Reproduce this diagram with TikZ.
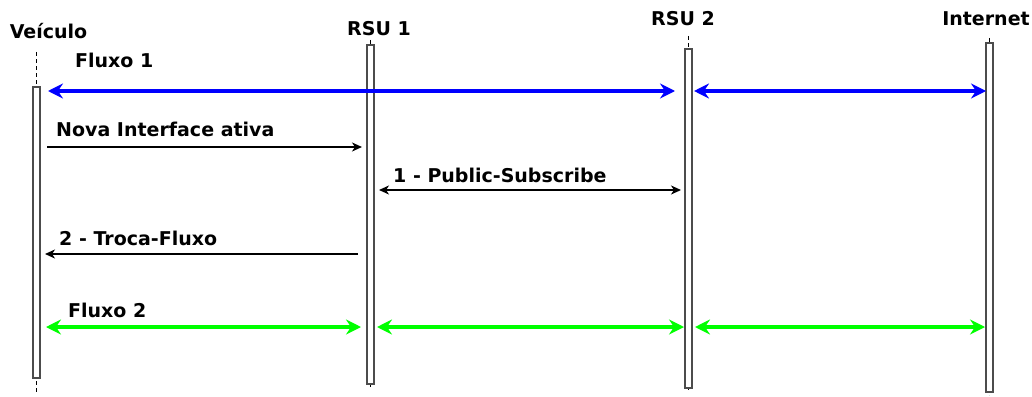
\documentclass[tikz,border=0pt]{standalone}
\usepackage{fontspec}
\setmainfont{DejaVu Sans}
\usetikzlibrary{arrows.meta}
\definecolor{fluxoUm}{RGB}{0,0,255}
\definecolor{fluxoDois}{RGB}{0,255,0}

\begin{document}
\begin{tikzpicture}[x=1pt,y=-1pt]
  \tikzset{actor/.style={font=\fontsize{19}{21}\selectfont\bfseries,anchor=base,inner sep=0pt}}
  \tikzset{msg/.style={font=\fontsize{19}{21}\selectfont\bfseries,anchor=base west,inner sep=0pt}}
  \tikzset{bar/.style={draw=gray!60!black,fill=white,line width=1.2pt,minimum width=7pt,inner sep=0pt}}
  \tikzset{life/.style={dashed,line width=0.8pt,dash pattern=on 4pt off 3pt}}
  \tikzset{call/.style={line width=2pt,-{Stealth[length=10pt,width=9pt,inset=3pt]}}}
  \tikzset{both/.style={line width=2pt,{Stealth[length=10pt,width=9pt,inset=3pt]}-{Stealth[length=10pt,width=9pt,inset=3pt]}}}
  \tikzset{flow/.style={line width=4.5pt,{Stealth[length=15pt,width=15pt,inset=5pt]}-{Stealth[length=15pt,width=15pt,inset=5pt]}}}
  \useasboundingbox (0,0) rectangle (1032,396);
  % participants
  \node[actor] (veiculo) at (48.5,38) {Veículo};
  \node[actor] (rsuUm) at (379,36) {RSU 1};
  \node[actor] (rsuDois) at (683,26) {RSU 2};
  \node[actor] (internet) at (986,26) {Internet};
  % lifelines
  \draw[life] (36.5,52) -- (36.5,392);
  \draw[life] (370.5,40) -- (370.5,388);
  \draw[life] (688.5,36) -- (688.5,392);
  \draw[life] (989.5,38) -- (989.5,395);
  \node[bar,minimum height=291pt] (veiculoBar) at (36.5,232.5) {};
  \node[bar,minimum height=339pt] (rsuUmBar) at (370.5,214.5) {};
  \node[bar,minimum height=339pt] (rsuDoisBar) at (688.5,218.5) {};
  \node[bar,minimum height=349pt] (internetBar) at (989.5,217.5) {};
  % end points
  \coordinate (v1) at (48,91);   \coordinate (d1) at (675,91);
  \coordinate (d1b) at (694,91); \coordinate (i1) at (986,91);
  \coordinate (v2) at (47,147);  \coordinate (u2) at (362,147);
  \coordinate (u3) at (379,190); \coordinate (d3) at (681,190);
  \coordinate (u4) at (358,254); \coordinate (v4) at (45,254);
  \coordinate (v5) at (46,327);  \coordinate (u5) at (361,327);
  \coordinate (u5b) at (377,327); \coordinate (d5) at (684,327);
  \coordinate (d5b) at (695,327); \coordinate (i5) at (985,327);
  % messages
  \draw[flow,fluxoUm] (v1) -- (d1);
  \draw[flow,fluxoUm] (d1b) -- (i1);
  \node[msg] (lblFluxoUm) at (75,67) {Fluxo 1};
  \draw[call] (v2) -- (u2);
  \node[msg] (lblNova) at (56,136) {Nova Interface ativa};
  \draw[both] (u3) -- (d3);
  \node[msg] (lblPub) at (393,182) {1 - Public-Subscribe};
  \draw[call] (u4) -- (v4);
  \node[msg] (lblTroca) at (59,245) {2 - Troca-Fluxo};
  \draw[flow,fluxoDois] (v5) -- (u5);
  \draw[flow,fluxoDois] (u5b) -- (d5);
  \draw[flow,fluxoDois] (d5b) -- (i5);
  \node[msg] (lblFluxoDois) at (68,317) {Fluxo 2};
\end{tikzpicture}
\end{document}
